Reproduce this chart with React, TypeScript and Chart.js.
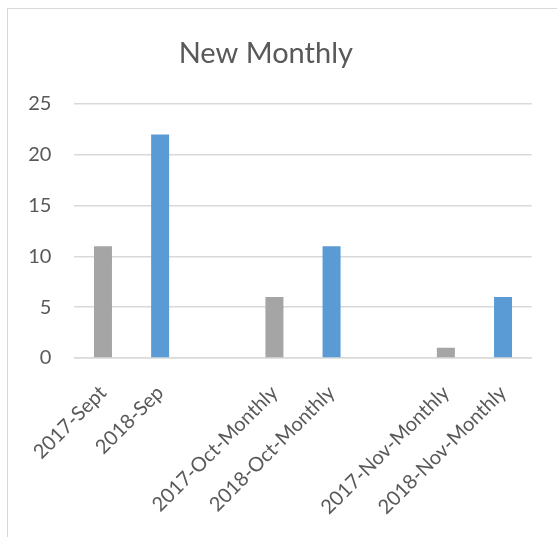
import React, { useEffect, useRef } from "react";
import { Chart, registerables } from "chart.js";

Chart.register(...registerables);

const categories = [
  "2017-Sept",
  "2018-Sep",
  "",
  "2017-Oct-Monthly",
  "2018-Oct-Monthly",
  "",
  "2017-Nov-Monthly",
  "2018-Nov-Monthly",
];
const series2017 = [11, null, null, 6, null, null, 1, null];
const series2018 = [null, 22, null, null, 11, null, null, 6];
const yMin = 0;
const yMax = 25;
const yStep = 5;

const TEXT = "#595959";
const GRID = "#d9d9d9";

export default function App() {
  const ref = useRef<HTMLCanvasElement | null>(null);

  useEffect(() => {
    document.body.style.margin = "0";
    const canvas = ref.current;
    if (!canvas) return;
    const chart = new Chart(canvas, {
      type: "bar",
      data: {
        labels: categories,
        datasets: [
          {
            label: "2017",
            data: series2017,
            backgroundColor: "#a5a5a5",
            categoryPercentage: 1,
            barPercentage: 0.315,
          },
          {
            label: "2018",
            data: series2018,
            backgroundColor: "#5b9bd5",
            categoryPercentage: 1,
            barPercentage: 0.315,
          },
        ],
      },
      options: {
        responsive: false,
        animation: false,
        skipNull: true,
        layout: { padding: { left: 0, right: 25.4, top: 0, bottom: 0 } },
        plugins: {
          legend: { display: false },
          tooltip: { enabled: false },
          title: {
            display: true,
            text: "New Monthly",
            color: TEXT,
            font: { family: "Lato", size: 29, weight: "normal" },
            padding: { top: 36, bottom: 33.2 },
          },
        },
        scales: {
          x: {
            grid: { display: false },
            border: { display: true, color: GRID, width: 1.5 },
            ticks: {
              color: TEXT,
              font: { family: "Lato", size: 20 },
              minRotation: 45,
              maxRotation: 45,
              autoSkip: false,
              padding: 15,
            },
            afterFit: (scale: any) => {
              scale.height = 179;
            },
          },
          y: {
            min: yMin,
            max: yMax,
            border: { display: false },
            grid: { color: GRID, lineWidth: 1.5, drawTicks: false },
            ticks: {
              stepSize: yStep,
              color: TEXT,
              font: { family: "Lato", size: 20 },
              padding: 23,
            },
            afterFit: (scale: any) => {
              scale.width = 74.4;
            },
          },
        },
      },
    });
    return () => chart.destroy();
  }, []);

  return (
    <div style={{ position: "relative", width: 557, height: 537, overflow: "hidden", background: "#fff" }}>
      <canvas
        ref={ref}
        width={557}
        height={537}
        style={{ position: "absolute", left: 0, top: 0, width: 557, height: 537 }}
      />
      <div
        style={{
          position: "absolute",
          left: 7,
          top: 8,
          width: 600,
          height: 600,
          border: "1px solid #d9d9d9",
          pointerEvents: "none",
        }}
      />
    </div>
  );
}
